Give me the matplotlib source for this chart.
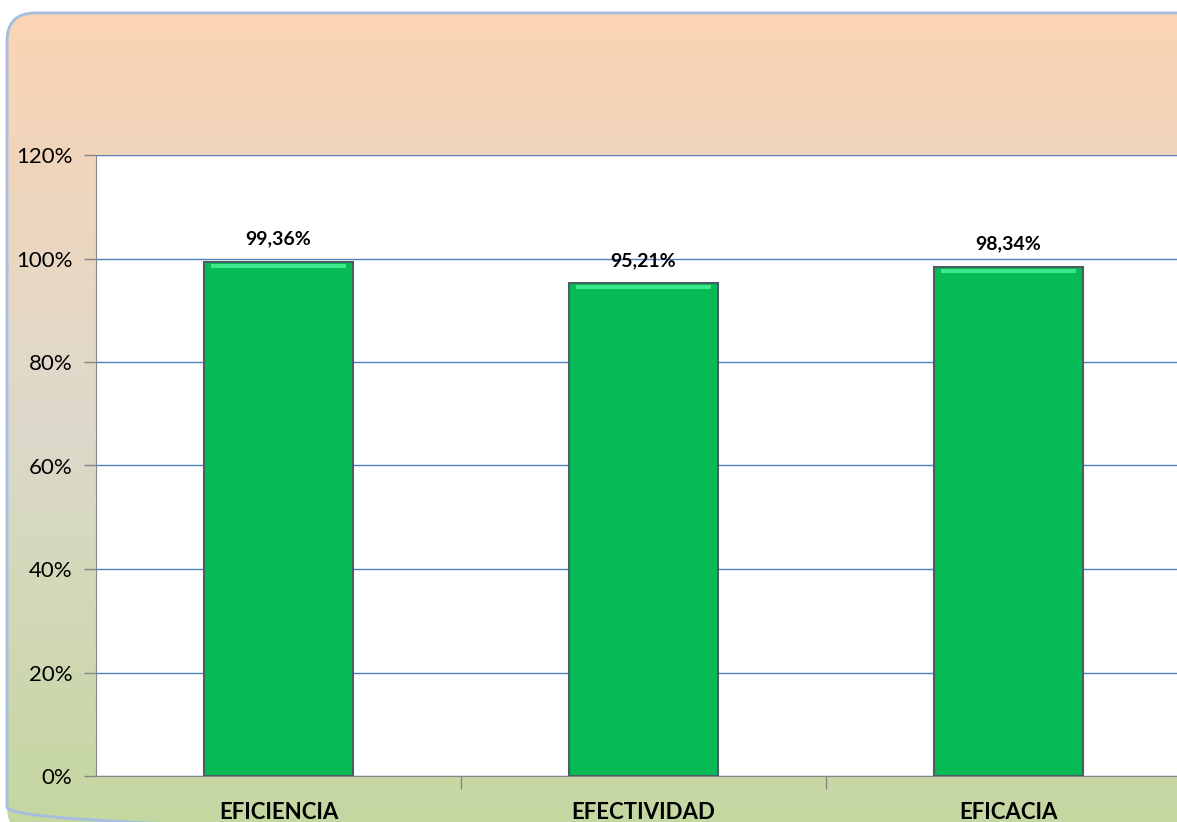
import numpy as np
import matplotlib.pyplot as plt
from matplotlib.patches import FancyBboxPatch
from matplotlib.ticker import FuncFormatter
from matplotlib.colors import LinearSegmentedColormap

categorias = ['EFICIENCIA', 'EFECTIVIDAD', 'EFICACIA']
valores = [0.9936, 0.9521, 0.9834]
etiquetas = ['99,36%', '95,21%', '98,34%']

plt.rcParams['font.family'] = ['Lato', 'DejaVu Sans']

fig = plt.figure(figsize=(11.77, 8.22), dpi=100)

####### background with rounded border and vertical gradient
bg = fig.add_axes([0, 0, 1, 1])
bg.set_xlim(0, 1177)
bg.set_ylim(822, 0)
bg.axis('off')
cmap = LinearSegmentedColormap.from_list('fondo', ['#fbd4b4', '#ddd9cb', '#c4d79f'])
grad = np.linspace(0, 1, 256).reshape(-1, 1)
im = bg.imshow(grad, cmap=cmap, extent=[7, 1230, 835, 13], aspect='auto', zorder=0)
caja = FancyBboxPatch((7, 13), 1223, 822, boxstyle='round,pad=0,rounding_size=28',
                      facecolor='none', edgecolor='#a4bde0', linewidth=2, zorder=1)
bg.add_patch(caja)
im.set_clip_path(caja)

####### chart
ax = fig.add_axes([96 / 1177, 46 / 822, 1095 / 1177, 621 / 822])
ax.set_facecolor('white')
x = np.arange(len(categorias))
ax.bar(x, valores, width=0.41, color='#06bb56', edgecolor='#4a5e63', linewidth=1.5, zorder=3)
# bevel highlight on top of each bar
ax.bar(x, [0.008] * 3, bottom=np.array(valores) - 0.012, width=0.37, color='#3ee88c',
       linewidth=0, zorder=4)

ax.set_xlim(-0.5, 2.5)
ax.set_ylim(0, 1.2)
ax.set_yticks(np.arange(0, 1.21, 0.2))
ax.yaxis.set_major_formatter(FuncFormatter(lambda v, p: f'{v * 100:.0f}%'))
ax.grid(axis='y', color='#4f81bd', linewidth=1, zorder=0)
ax.tick_params(axis='y', length=9, width=1, color='#868686', labelsize=16, pad=8)

ax.set_xticks(x)
ax.set_xticklabels(categorias, fontsize=16, fontweight='bold')
ax.set_xticks([0.5, 1.5], minor=True)
ax.tick_params(axis='x', which='major', length=0, pad=19)
ax.tick_params(axis='x', which='minor', length=9, width=1, color='#868686')

for s in ['top', 'right']:
    ax.spines[s].set_visible(False)
ax.spines['left'].set_color('#868686')
ax.spines['bottom'].set_color('#868686')

for xi, v, t in zip(x, valores, etiquetas):
    ax.text(xi, v + 0.028, t, ha='center', va='bottom', fontsize=14, fontweight='bold')

fig.savefig('out.png', dpi=100)
